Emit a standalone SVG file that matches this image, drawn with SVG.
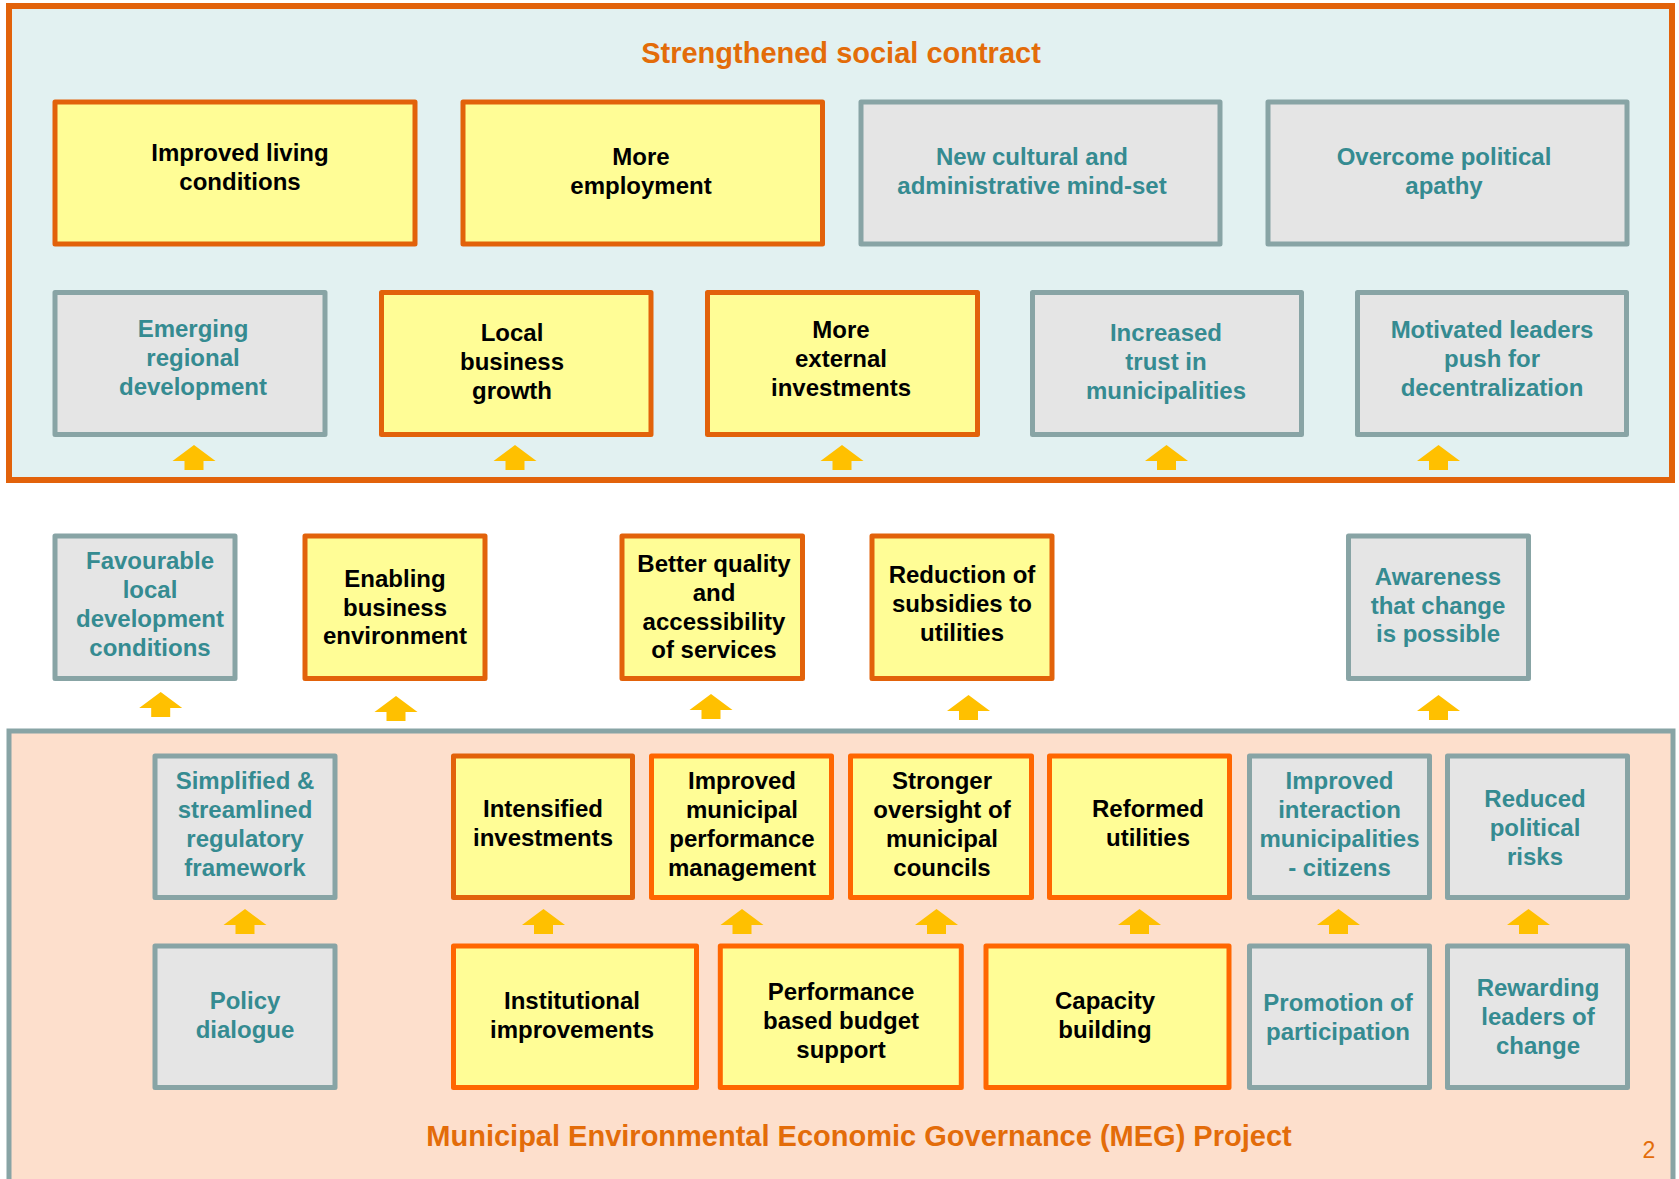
<svg xmlns="http://www.w3.org/2000/svg" xmlns:xlink="http://www.w3.org/1999/xlink" width="1679" height="1179" viewBox="0 0 1679 1179">
<style>
text{font-family:"Liberation Sans",Arial,sans-serif;font-weight:bold;font-size:24px;text-anchor:middle}
.y rect{fill:#FFFD96;stroke:#E2620A;stroke-width:5;stroke-linejoin:round}
.y2 rect{fill:#FFFD96;stroke:#FF6600;stroke-width:5;stroke-linejoin:round}
.y text,.y2 text{fill:#000}
.g rect{fill:#E5E5E5;stroke:#88A4A5;stroke-width:5;stroke-linejoin:round}
.g text{fill:#358B91}
.title{fill:#E36C09;font-size:29px}
.arr{fill:#FFC000}
</style>
<defs>
<path id="arr" d="M0,0 L21.5,16 L9.5,16 L9.5,25 L-9.5,25 L-9.5,16 L-21.5,16 Z"/>
</defs>
<rect id="frame-bottom" x="9" y="731" width="1664" height="470" fill="#FDDFCC" stroke="#88A4A5" stroke-width="5"/>
<rect id="frame-top" x="9" y="6" width="1663" height="474" fill="#E2F1F1" stroke="#E2620A" stroke-width="6"/>
<text class="title" x="841" y="63">Strengthened social contract</text>
<text class="title" x="859" y="1146">Municipal Environmental Economic Governance (MEG) Project</text>
<text x="1649" y="1158" style="font-weight:normal;font-size:23px;fill:#E36C09">2</text>

<g id="n1" class="y"><rect x="55" y="102" width="360" height="142"/><text><tspan x="240" y="161">Improved living</tspan><tspan x="240" y="190">conditions</tspan></text></g>
<g id="n2" class="y"><rect x="463" y="102" width="359.5" height="142"/><text><tspan x="641" y="165">More</tspan><tspan x="641" y="194">employment</tspan></text></g>
<g id="n3" class="g"><rect x="861" y="102" width="359" height="142"/><text><tspan x="1032" y="165">New cultural and</tspan><tspan x="1032" y="194">administrative mind-set</tspan></text></g>
<g id="n4" class="g"><rect x="1268" y="102" width="359" height="142"/><text><tspan x="1444" y="165">Overcome political</tspan><tspan x="1444" y="194">apathy</tspan></text></g>

<g id="n5" class="g"><rect x="55" y="292.5" width="270" height="142"/><text><tspan x="193" y="337">Emerging</tspan><tspan x="193" y="366">regional</tspan><tspan x="193" y="395">development</tspan></text></g>
<g id="n6" class="y"><rect x="381.5" y="292.5" width="269.5" height="142"/><text><tspan x="512" y="341">Local</tspan><tspan x="512" y="370">business</tspan><tspan x="512" y="399">growth</tspan></text></g>
<g id="n7" class="y"><rect x="707.5" y="292.5" width="270" height="142"/><text><tspan x="841" y="338">More</tspan><tspan x="841" y="367">external</tspan><tspan x="841" y="396">investments</tspan></text></g>
<g id="n8" class="g"><rect x="1032.5" y="292.5" width="269" height="142"/><text><tspan x="1166" y="341">Increased</tspan><tspan x="1166" y="370">trust in</tspan><tspan x="1166" y="399">municipalities</tspan></text></g>
<g id="n9" class="g"><rect x="1357.5" y="292.5" width="269" height="142"/><text><tspan x="1492" y="338">Motivated leaders</tspan><tspan x="1492" y="367">push for</tspan><tspan x="1492" y="396">decentralization</tspan></text></g>

<g id="m1" class="g"><rect x="55" y="536" width="180" height="142.5"/><text><tspan x="150" y="569">Favourable</tspan><tspan x="150" y="598">local</tspan><tspan x="150" y="627">development</tspan><tspan x="150" y="656">conditions</tspan></text></g>
<g id="m2" class="y"><rect x="305" y="536" width="180" height="142.5"/><text><tspan x="395" y="587">Enabling</tspan><tspan x="395" y="615.5">business</tspan><tspan x="395" y="644">environment</tspan></text></g>
<g id="m3" class="y"><rect x="622" y="536" width="180.5" height="142.5"/><text><tspan x="714" y="572">Better quality</tspan><tspan x="714" y="601">and</tspan><tspan x="714" y="629.5">accessibility</tspan><tspan x="714" y="658">of services</tspan></text></g>
<g id="m4" class="y"><rect x="872" y="536" width="180" height="142.5"/><text><tspan x="962" y="583">Reduction of</tspan><tspan x="962" y="612">subsidies to</tspan><tspan x="962" y="641">utilities</tspan></text></g>
<g id="m5" class="g"><rect x="1348.5" y="536" width="180" height="142.5"/><text><tspan x="1438" y="585">Awareness</tspan><tspan x="1438" y="613.5">that change</tspan><tspan x="1438" y="642">is possible</tspan></text></g>

<g id="b1" class="g"><rect x="155" y="756" width="180" height="141.5"/><text><tspan x="245" y="789">Simplified &amp;</tspan><tspan x="245" y="818">streamlined</tspan><tspan x="245" y="847">regulatory</tspan><tspan x="245" y="876">framework</tspan></text></g>
<g id="b2" class="y"><rect x="453.5" y="756" width="179" height="141.5"/><text><tspan x="543" y="817">Intensified</tspan><tspan x="543" y="846">investments</tspan></text></g>
<g id="b3" class="y2"><rect x="651.5" y="756" width="180" height="141.5"/><text><tspan x="742" y="789">Improved</tspan><tspan x="742" y="818">municipal</tspan><tspan x="742" y="847">performance</tspan><tspan x="742" y="876">management</tspan></text></g>
<g id="b4" class="y2"><rect x="850.5" y="756" width="181" height="141.5"/><text><tspan x="942" y="789">Stronger</tspan><tspan x="942" y="818">oversight of</tspan><tspan x="942" y="847">municipal</tspan><tspan x="942" y="876">councils</tspan></text></g>
<g id="b5" class="y2"><rect x="1049.5" y="756" width="180" height="141.5"/><text><tspan x="1148" y="817">Reformed</tspan><tspan x="1148" y="846">utilities</tspan></text></g>
<g id="b6" class="g"><rect x="1249.5" y="756" width="180" height="141.5"/><text><tspan x="1339.5" y="789">Improved</tspan><tspan x="1339.5" y="818">interaction</tspan><tspan x="1339.5" y="847">municipalities</tspan><tspan x="1339.5" y="876">- citizens</tspan></text></g>
<g id="b7" class="g"><rect x="1447.5" y="756" width="180" height="141.5"/><text><tspan x="1535" y="806.5">Reduced</tspan><tspan x="1535" y="835.5">political</tspan><tspan x="1535" y="864.5">risks</tspan></text></g>

<g id="c1" class="g"><rect x="155" y="946" width="180" height="141.5"/><text><tspan x="245" y="1009">Policy</tspan><tspan x="245" y="1038">dialogue</tspan></text></g>
<g id="c2" class="y2"><rect x="453.5" y="946" width="243" height="141.5"/><text><tspan x="572" y="1009">Institutional</tspan><tspan x="572" y="1038">improvements</tspan></text></g>
<g id="c3" class="y2"><rect x="720.3" y="946" width="241" height="141.5"/><text><tspan x="841" y="1000">Performance</tspan><tspan x="841" y="1029">based budget</tspan><tspan x="841" y="1058">support</tspan></text></g>
<g id="c4" class="y2"><rect x="986" y="946" width="243" height="141.5"/><text><tspan x="1105" y="1009">Capacity</tspan><tspan x="1105" y="1038">building</tspan></text></g>
<g id="c5" class="g"><rect x="1249.5" y="946" width="180" height="141.5"/><text><tspan x="1338" y="1010.5">Promotion of</tspan><tspan x="1338" y="1039.5">participation</tspan></text></g>
<g id="c6" class="g"><rect x="1447.5" y="946" width="180" height="141.5"/><text><tspan x="1538" y="995.5">Rewarding</tspan><tspan x="1538" y="1024.5">leaders of</tspan><tspan x="1538" y="1053.5">change</tspan></text></g>

<g id="connectors" class="arr">
<use xlink:href="#arr" x="194" y="445"/>
<use xlink:href="#arr" x="515" y="445"/>
<use xlink:href="#arr" x="842" y="445"/>
<use xlink:href="#arr" x="1166.5" y="445"/>
<use xlink:href="#arr" x="1438.5" y="445"/>
<use xlink:href="#arr" x="160.7" y="692"/>
<use xlink:href="#arr" x="396" y="696"/>
<use xlink:href="#arr" x="711" y="694"/>
<use xlink:href="#arr" x="968.5" y="695"/>
<use xlink:href="#arr" x="1438.5" y="695"/>
<use xlink:href="#arr" x="245" y="909"/>
<use xlink:href="#arr" x="543.5" y="909"/>
<use xlink:href="#arr" x="742" y="909"/>
<use xlink:href="#arr" x="936.5" y="909"/>
<use xlink:href="#arr" x="1139.5" y="909"/>
<use xlink:href="#arr" x="1338.5" y="909"/>
<use xlink:href="#arr" x="1528.5" y="909"/>
</g>
</svg>
